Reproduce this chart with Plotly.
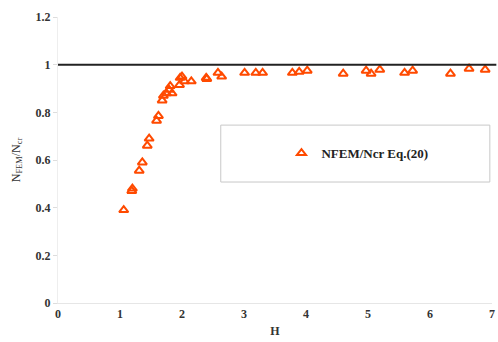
import plotly.graph_objects as go

H = [1.06, 1.19, 1.20, 1.31, 1.36, 1.44, 1.47, 1.59, 1.62, 1.68, 1.70, 1.75, 1.79, 1.81, 1.84,
     1.96, 1.97, 2.00, 2.04, 2.15, 2.39, 2.40, 2.58, 2.64, 3.01, 3.19, 3.30, 3.78, 3.89, 4.02,
     4.60, 4.97, 5.05, 5.19, 5.59, 5.72, 6.33, 6.63, 6.89]
ratio = [0.39, 0.47, 0.48, 0.555, 0.59, 0.66, 0.69, 0.765, 0.785, 0.85, 0.87, 0.88, 0.895, 0.91, 0.88,
         0.915, 0.945, 0.95, 0.93, 0.93, 0.945, 0.94, 0.966, 0.95, 0.966, 0.966, 0.966, 0.966, 0.97, 0.975,
         0.962, 0.975, 0.962, 0.979, 0.966, 0.975, 0.962, 0.983, 0.979]

x_ticks = [0, 1, 2, 3, 4, 5, 6, 7]
y_ticks = [0, 0.2, 0.4, 0.6, 0.8, 1, 1.2]
y_labels = ["0", "0.2", "0.4", "0.6", "0.8", "1", "1.2"]

SERIF = "Liberation Serif, Times New Roman, serif"
font = dict(family=SERIF, size=12, color="#333")

fig = go.Figure()
fig.add_trace(go.Scatter(
    x=H, y=ratio, mode="markers", name="<b>NFEM/Ncr Eq.(20)</b>",
    marker=dict(symbol="triangle-up-open", size=8, color="#ff4a00", line=dict(width=2)),
))

fig.add_shape(type="line", xref="paper", yref="y", x0=0, x1=1.01, y0=1, y1=1,
              line=dict(color="#222", width=2))
fig.add_shape(type="rect", xref="paper", yref="paper", x0=0.375, x1=0.995, y0=0.423, y1=0.622,
              line=dict(color="#c8c8c8", width=1))

fig.update_layout(
    width=498, height=342,
    margin=dict(l=58, r=3, t=17, b=39),
    paper_bgcolor="white", plot_bgcolor="white",
    font=font,
    showlegend=True,
    legend=dict(x=0.69, y=0.524, xanchor="center", yanchor="middle",
                bgcolor="rgba(0,0,0,0)", font=dict(family=SERIF, size=13, color="#222")),
    xaxis=dict(range=[0, 7], tickvals=x_ticks, ticktext=[f"<b>{v}</b>" for v in x_ticks],
               showgrid=False, zeroline=False, showline=True, linecolor="#e6e6e6",
               ticks="", ticklen=0,
               title=dict(text="<b>H</b>", standoff=6, font=dict(family=SERIF, size=12))),
    yaxis=dict(range=[0, 1.2], tickvals=y_ticks, ticktext=[f"<b>{v}</b>" for v in y_labels],
               showgrid=False, zeroline=False, showline=True, linecolor="#eeeeee",
               ticks="outside", ticklen=4, tickcolor="#dddddd",
               title=dict(text="N<sub>FEM</sub>/N<sub>cr</sub>", standoff=12,
                          font=dict(family=SERIF, size=12))),
)

fig.write_html("out.html")
